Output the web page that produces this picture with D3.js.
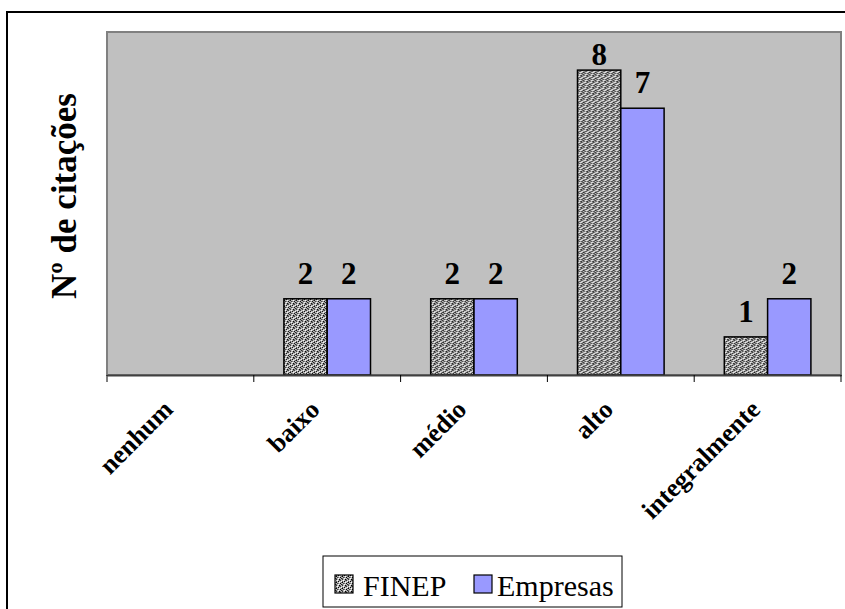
<!DOCTYPE html>
<html>
<head>
<meta charset="utf-8">
<script src="https://cdn.jsdelivr.net/npm/d3@7"></script>
<style>
  html, body { margin: 0; padding: 0; background: #fff; }
  svg { display: block; }
</style>
</head>
<body>
<svg id="chart" width="845" height="609"></svg>
<script>
// Citation counts per level, for FINEP and for the companies
const categories = ["nenhum", "baixo", "médio", "alto", "integralmente"];
const seriesNames = ["FINEP", "Empresas"];
const finepValues = [0, 2, 2, 8, 1];
const empresasValues = [0, 2, 2, 7, 2];
const yAxisTitle = "Nº de citações";

const svg = d3.select("#chart");
const serif = "'Liberation Serif', 'Times New Roman', serif";

// Stipple fill used for the FINEP bars
const defs = svg.append("defs");
const pat = defs.append("pattern")
  .attr("id", "stipple")
  .attr("patternUnits", "userSpaceOnUse")
  .attr("width", 6).attr("height", 6);
pat.append("rect").attr("width", 6).attr("height", 6).attr("fill", "#b8b8b8");
const dots = [
  [0,0,"#000"],[3,0,"#fff"],[1,1,"#444"],[4,1,"#000"],[2,2,"#fff"],[5,2,"#222"],
  [0,3,"#333"],[3,3,"#000"],[1,4,"#fff"],[4,4,"#333"],[2,5,"#000"],[5,5,"#fff"],
  [5,0,"#666"],[2,1,"#777"],[0,2,"#666"],[4,3,"#777"],[0,5,"#555"],[3,4,"#666"]
];
dots.forEach(([x, y, c]) => pat.append("rect").attr("x", x).attr("y", y)
  .attr("width", 1).attr("height", 1).attr("fill", c));

// Outer frame (runs off the right and bottom edges)
svg.append("path")
  .attr("d", "M7,609 L7,12 L845,12")
  .attr("fill", "none").attr("stroke", "#000").attr("stroke-width", 2);

const plot = { left: 107, top: 32, right: 841, bottom: 375 };

const x0 = d3.scaleBand().domain(categories)
  .range([plot.left, plot.right]).paddingInner(0).paddingOuter(0);
const y = d3.scaleLinear().domain([0, 9]).range([plot.bottom, plot.top]);

// Plot area
svg.append("rect")
  .attr("x", plot.left).attr("y", plot.top)
  .attr("width", plot.right - plot.left).attr("height", plot.bottom - plot.top)
  .attr("fill", "#c0c0c0").attr("stroke", "#808080").attr("stroke-width", 2);

const groupWidth = x0.bandwidth() * 0.59;
const x1 = d3.scaleBand().domain(seriesNames).range([0, groupWidth]).padding(0);

const rows = categories.map((c, i) => ({
  cat: c,
  vals: [
    { name: "FINEP", v: finepValues[i], fill: "url(#stipple)" },
    { name: "Empresas", v: empresasValues[i], fill: "#9999ff" }
  ]
}));

const groups = svg.selectAll("g.grp").data(rows).enter().append("g")
  .attr("class", "grp")
  .attr("transform", d => `translate(${x0(d.cat) + (x0.bandwidth() - groupWidth) / 2},0)`);

groups.selectAll("rect").data(d => d.vals.filter(v => v.v > 0)).enter().append("rect")
  .attr("x", d => x1(d.name))
  .attr("y", d => y(d.v))
  .attr("width", x1.bandwidth())
  .attr("height", d => y(0) - y(d.v))
  .attr("fill", d => d.fill)
  .attr("stroke", "#000").attr("stroke-width", 1.5);

// Value labels sit above each bar, kept inside the plot area
groups.selectAll("text").data(d => d.vals.filter(v => v.v > 0)).enter().append("text")
  .attr("x", d => x1(d.name) + x1.bandwidth() / 2)
  .attr("y", d => Math.max(y(d.v) - 15, plot.top + 33))
  .attr("text-anchor", "middle")
  .attr("font-family", serif).attr("font-weight", "bold").attr("font-size", 31)
  .text(d => d.v);

// Category axis
const xAxis = d3.axisBottom(x0).tickSize(0).tickFormat("");
const axG = svg.append("g").attr("transform", `translate(0,${plot.bottom})`).call(xAxis);
axG.select(".domain").attr("stroke", "#404040").attr("stroke-width", 2);
const bounds = categories.map(c => x0(c)).concat([plot.right]);
svg.selectAll("line.tick").data(bounds).enter().append("line")
  .attr("class", "tick")
  .attr("x1", d => d).attr("x2", d => d)
  .attr("y1", plot.bottom).attr("y2", plot.bottom + 7)
  .attr("stroke", "#000").attr("stroke-width", 1);

svg.selectAll("text.cat").data(categories).enter().append("text")
  .attr("class", "cat")
  .attr("transform", c => `translate(${x0(c) + x0.bandwidth() / 2 - 6},${plot.bottom + 36}) rotate(-45)`)
  .attr("text-anchor", "end")
  .attr("font-family", serif).attr("font-weight", "bold").attr("font-size", 26)
  .text(c => c);

// Value axis title
svg.append("text")
  .attr("transform", `translate(76,196) rotate(-90)`)
  .attr("text-anchor", "middle")
  .attr("font-family", serif).attr("font-weight", "bold").attr("font-size", 35)
  .text(yAxisTitle);

// Legend
const lg = svg.append("g");
lg.append("rect").attr("x", 323).attr("y", 556).attr("width", 299).attr("height", 51)
  .attr("fill", "#fff").attr("stroke", "#000").attr("stroke-width", 1);
const legendItems = [
  { name: seriesNames[0], fill: "url(#stipple)", x: 335, tx: 363 },
  { name: seriesNames[1], fill: "#9999ff", x: 474, tx: 497 }
];
legendItems.forEach(it => {
  lg.append("rect").attr("x", it.x).attr("y", 575).attr("width", 18).attr("height", 18)
    .attr("fill", it.fill).attr("stroke", "#000").attr("stroke-width", 1.2);
  lg.append("text").attr("x", it.tx).attr("y", 596)
    .attr("font-family", serif).attr("font-size", 30)
    .text(it.name);
});
</script>
</body>
</html>
